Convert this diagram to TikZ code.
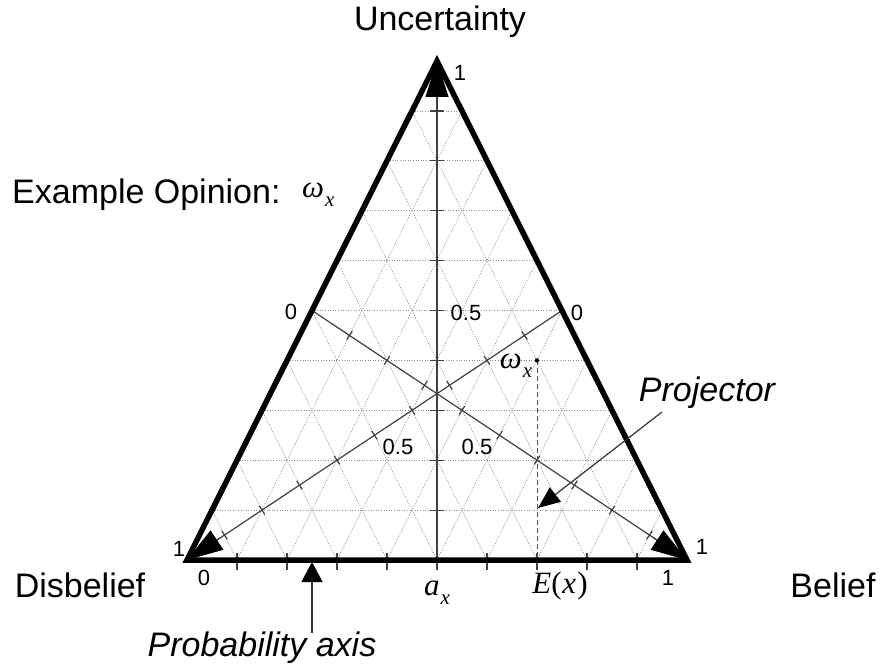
\documentclass[tikz,border=0pt]{standalone}
\usepackage{fontspec}
\setmainfont{Liberation Sans}
\newfontfamily\tserif{Liberation Serif}
\newcommand{\subx}{\raisebox{-0.3em}{\fontsize{21}{24}\selectfont\itshape x}}
\newcommand{\omx}{{\tserif\itshape ω\kern0.03em\subx}}
\newcommand{\ax}{{\tserif\itshape a\kern0.03em\subx}}
\newcommand{\Ex}{{\tserif{\itshape E}(\kern0.02em{\itshape x}\kern0.04em)}}
\usetikzlibrary{arrows.meta,calc}
\begin{document}
\begin{tikzpicture}[x=1pt,y=-1pt,
  big/.style={font=\fontsize{34}{40}\selectfont, inner sep=0pt},
  bigit/.style={font=\fontsize{34}{40}\selectfont\itshape, inner sep=0pt},
  num/.style={font=\fontsize{22}{26}\selectfont, inner sep=0pt},
  mathlbl/.style={font=\fontsize{31}{36}\selectfont, inner sep=0pt},
  gridline/.style={black!45, dash pattern=on 1pt off 1.6pt, line width=0.7pt},
  axisline/.style={black!75, line width=1.2pt},
  frame/.style={black, line width=5.5pt, line join=miter},
  bigtip/.style={-{Triangle[length=36pt,width=23pt,black]}},
  ptr/.style={black!80, line width=1.2pt, -{Triangle[length=22pt,width=18pt,black]}}
]
\useasboundingbox[fill=white] (0,0) rectangle (884,668);
% vertices
\coordinate (D) at (187,560);
\coordinate (B) at (687,560);
\coordinate (U) at (437,61);
\coordinate (M) at ($(D)!0.5!(B)$);
\coordinate (Lm) at ($(D)!0.5!(U)$);
\coordinate (Rm) at ($(B)!0.5!(U)$);
% grid
\foreach \k in {1,...,9} {
  \draw[gridline] ($(D)!\k/10!(U)$) -- ($(B)!\k/10!(U)$);
  \draw[gridline] ($(D)!\k/10!(B)$) -- ($(U)!\k/10!(B)$);
  \draw[gridline] ($(D)!\k/10!(B)$) -- ($(D)!\k/10!(U)$);
}
% axes
\draw[axisline] (M) -- (U);
\draw[axisline] (Lm) -- (B);
\draw[axisline] (Rm) -- (D);
\foreach \k in {1,...,9} {
  \draw[axisline] ($(M)!\k/10!(U)$) ++(-7,0) -- ++(14,0);
  \draw[axisline] ($(Lm)!\k/10!(B)!5pt!90:(B)$) -- ($(Lm)!\k/10!(B)!5pt!-90:(B)$);
  \draw[axisline] ($(Rm)!\k/10!(D)!5pt!90:(D)$) -- ($(Rm)!\k/10!(D)!5pt!-90:(D)$);
  \draw[axisline] ($(D)!\k/10!(B)$) ++(0,-7) -- ++(0,17);
}
% frame
\draw[frame] (D) -- (U) -- (B) -- cycle;
% vertex arrowheads
\draw[axisline,bigtip] ($(U)!40pt!(M)$) -- (U);
\draw[axisline,bigtip] ($(D)!40pt!(Rm)$) -- (D);
\draw[axisline,bigtip] ($(B)!40pt!(Lm)$) -- (B);
% opinion point and projector
\coordinate (w) at (barycentric cs:D=0.1,B=0.5,U=0.4);
\coordinate (E) at ($(D)!0.7!(B)$);
\draw[black!70, line width=1pt, dash pattern=on 5pt off 3pt] (w) -- (E);
\fill (w) circle (2.2);
% labels
\node[big] (unc) at (440,22) {Uncertainty};
\node[big, anchor=west] (ex) at (12,195) {Example Opinion:};
\node[mathlbl, anchor=west] (exw) at (302,195) {\omx};
\node[num] (l0L) at (291,312) {0};
\node[num] (l0R) at (577,313) {0};
\node[num] (l05u) at (466,313) {0.5};
\node[num] (l1U) at (460,73) {1};
\node[num] (l1D) at (179,549) {1};
\node[num] (l1B) at (702,547) {1};
\node[num] (l05a) at (398,447) {0.5};
\node[num] (l05b) at (477,447) {0.5};
\node[mathlbl] (wl) at (516,366) {\omx};
\node[bigit] (proj) at (707,393) {Projector};
\coordinate (pstart) at (662,412);
\coordinate (ptip) at (538,508);
\draw[ptr] (pstart) -- (ptip);
\node[big] (dis) at (80,585) {Disbelief};
\node[big] (bel) at (833,585) {Belief};
\node[num] (b0) at (204,578) {0};
\node[num] (b1) at (668,578) {1};
\node[mathlbl] (ax) at (437,593) {\ax};
\node[mathlbl] (ex2) at (560,586) {\Ex};
\node[bigit] (prob) at (262,648) {Probability axis};
\coordinate (pa) at (312,633);
\coordinate (pb) at (312,562);
\draw[ptr, -{Triangle[length=20pt,width=21pt,black]}] (pa) -- (pb);
\end{tikzpicture}
\end{document}
